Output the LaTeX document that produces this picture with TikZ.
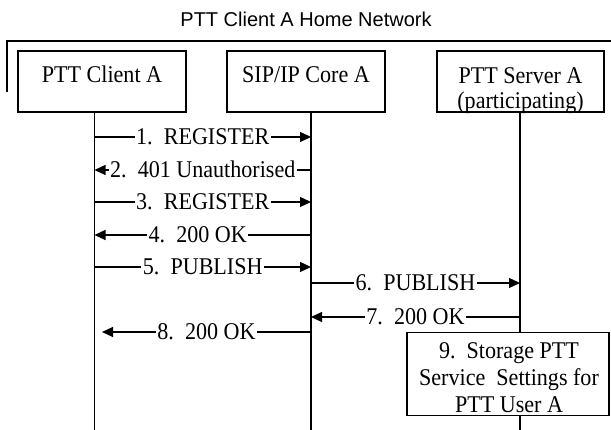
\documentclass[tikz,border=0pt]{standalone}
\usepackage{fontspec}
\setmainfont[FakeStretch=0.92]{Liberation Serif}
\newfontfamily\headfont{Liberation Sans}
\usetikzlibrary{arrows.meta}
\begin{document}
\begin{tikzpicture}[x=1pt,y=-1pt,
  every node/.style={font=\fontsize{24}{27}\selectfont},
  entity/.style={draw, line width=1.2pt, inner sep=0pt},
  boxtext/.style={anchor=base, inner sep=0pt},
  lifeline/.style={line width=1.2pt},
  msg/.style={line width=1.2pt, -{Triangle[length=11pt,width=10pt]}},
  msglabel/.style={fill=white, inner sep=1.5pt, anchor=base, yshift=-8pt},
  frameline/.style={line width=1.3pt}]
\useasboundingbox (0,0) rectangle (611,430);

% network title and frame
\node[anchor=base, inner sep=0pt, font=\headfont\fontsize{20}{24}\selectfont] (title) at (306,27) {PTT Client A Home Network};
\draw[frameline] (7,92) -- (7,41) -- (611,41);

% entities
\node[entity, minimum width=168, minimum height=61] (clientA) at (102,81.5) {};
\node[boxtext] (clientAtxt) at (102,83) {PTT Client A};
\node[entity, minimum width=158, minimum height=61] (coreA) at (306,81.5) {};
\node[boxtext] (coreAtxt) at (306,83) {SIP/IP Core A};
\node[entity, minimum width=167, minimum height=61] (serverA) at (520.5,81.5) {};
\node[boxtext] (serverAtxt) at (520.5,84) {PTT Server A};
\node[boxtext] (serverAtxt2) at (520.5,108.5) {(participating)};

% lifelines
\coordinate (l1) at (94.5,112);
\coordinate (l2) at (311,112);
\coordinate (l3) at (520,112);
\coordinate (l1end) at (94.5,430);
\coordinate (l2end) at (311,430);
\coordinate (l3end) at (520,430);
\draw[lifeline] (l1) -- (l1end);
\draw[lifeline] (l2) -- (l2end);
\draw[lifeline] (l3) -- (l3end);

% local action box
\node[entity, fill=white, minimum width=202, minimum height=83] (store) at (508,374) {};
\node[boxtext] (storetxt1) at (509,359) {9.\ \ Storage PTT};
\node[boxtext] (storetxt2) at (509,386) {Service\ \ Settings for};
\node[boxtext] (storetxt3) at (509,413) {PTT User A};

% message flow
\coordinate (m8end) at (102,332);
\draw[msg] (l1 |- 0,137) -- node[msglabel] (t1) {1.\ \ REGISTER} (l2 |- 0,137);
\draw[msg] (l2 |- 0,170) -- node[msglabel] (t2) {2.\ \ 401 Unauthorised} (l1 |- 0,170);
\draw[msg] (l1 |- 0,202) -- node[msglabel] (t3) {3.\ \ REGISTER} (l2 |- 0,202);
\draw[msg] (l2 |- 0,235) -- node[msglabel, xshift=-5pt] (t4) {4.\ \ 200 OK} (l1 |- 0,235);
\draw[msg] (l1 |- 0,267) -- node[msglabel] (t5) {5.\ \ PUBLISH} (l2 |- 0,267);
\draw[msg] (l2 |- 0,283) -- node[msglabel] (t6) {6.\ \ PUBLISH} (l3 |- 0,283);
\draw[msg] (l3 |- 0,317) -- node[msglabel] (t7) {7.\ \ 200 OK} (l2 |- 0,317);
\draw[msg] (l2 |- 0,332) -- node[msglabel] (t8) {8.\ \ 200 OK} (m8end);
\end{tikzpicture}
\end{document}
